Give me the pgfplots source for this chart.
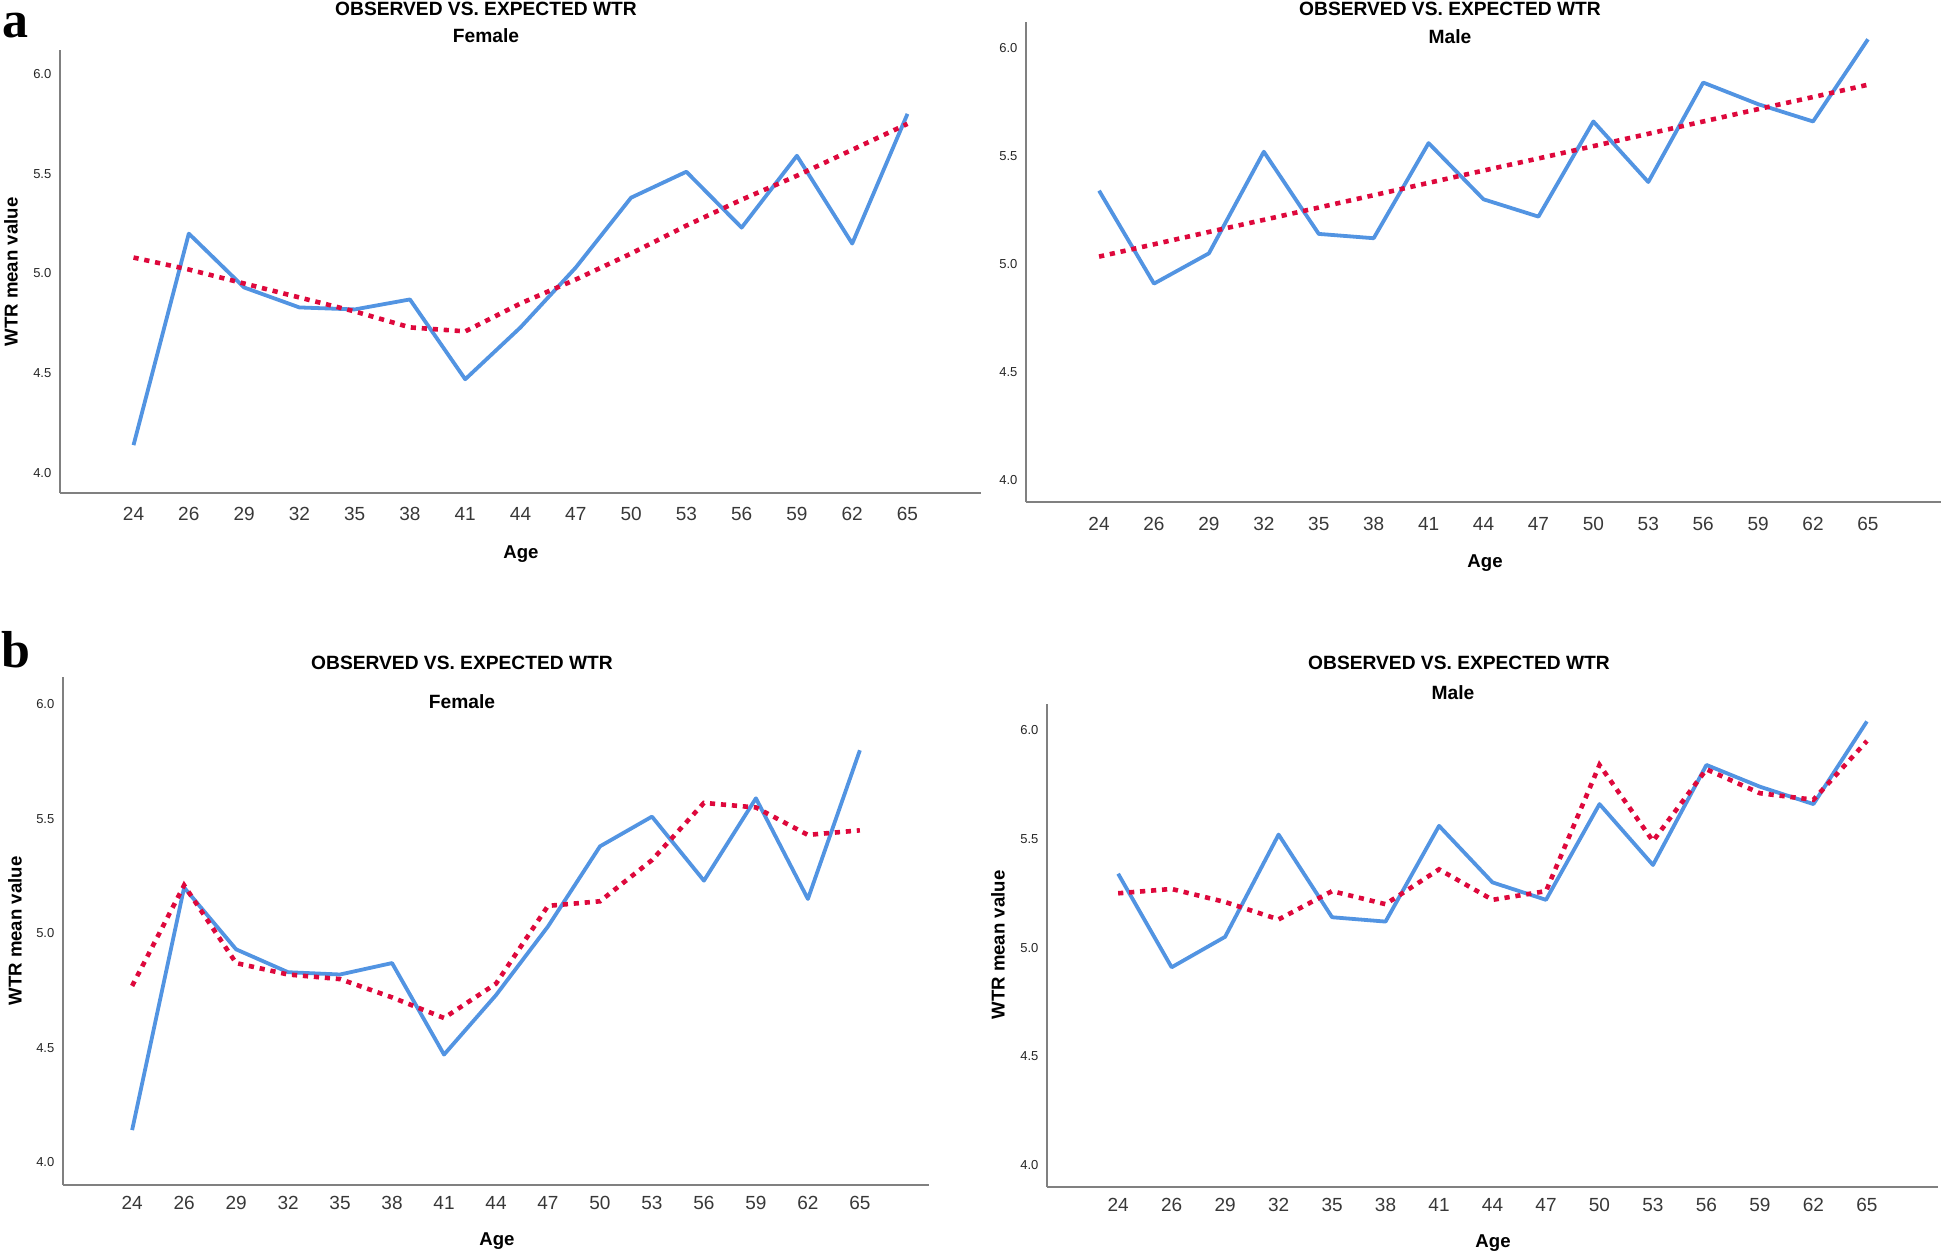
\documentclass[border=0pt]{standalone}
\usepackage{fontspec}
\setmainfont{Liberation Sans}
\newfontfamily\letterfont{Liberation Serif}
\usepackage{pgfplots}
\pgfplotsset{compat=1.18}
\usepackage{pgfplotstable}

\definecolor{obsblue}{RGB}{82,148,226}
\definecolor{expred}{RGB}{222,8,60}
\definecolor{axgray}{RGB}{128,128,128}

\pgfplotstableread{
i obsF expFa expFb obsM expMa expMb
0  4.14 5.08 4.77 5.34 5.035 5.25
1  5.20 5.02 5.21 4.91 5.092 5.27
2  4.93 4.95 4.87 5.05 5.149 5.21
3  4.83 4.88 4.82 5.52 5.205 5.13
4  4.82 4.81 4.80 5.14 5.262 5.26
5  4.87 4.73 4.72 5.12 5.319 5.20
6  4.47 4.71 4.63 5.56 5.376 5.36
7  4.73 4.85 4.78 5.30 5.433 5.22
8  5.03 4.97 5.12 5.22 5.489 5.26
9  5.38 5.10 5.14 5.66 5.546 5.84
10 5.51 5.24 5.32 5.38 5.603 5.49
11 5.23 5.37 5.57 5.84 5.660 5.82
12 5.59 5.49 5.55 5.74 5.717 5.71
13 5.15 5.62 5.43 5.66 5.773 5.68
14 5.80 5.75 5.45 6.04 5.830 5.95
}\wtr

\pgfplotsset{
  spss/.style={
    scale only axis,
    anchor=south west,
    xmin=-1.33, xmax=15.33, ymin=3.9, ymax=6.12,
    axis x line*=bottom, axis y line*=left,
    axis line style={-, draw=axgray, line width=1pt},
    xtick={0,...,14},
    xticklabels={24,26,29,32,35,38,41,44,47,50,53,56,59,62,65},
    ytick={4,4.5,5,5.5,6},
    major tick length=0pt,
    /pgf/number format/assume math mode=true,
    /pgf/number format/fixed,
    /pgf/number format/fixed zerofill,
    /pgf/number format/precision=1,
    xticklabel style={font=\fontsize{9.5}{11}\selectfont, text=black!78},
    yticklabel style={font=\fontsize{6.5}{8}\selectfont, text=black!85},
    xticklabel shift=2.3pt,
    yticklabel shift=0.8pt,
    clip=false,
  },
  obs/.style={draw=obsblue, line width=1.9pt, line join=round, no markers},
  expc/.style={draw=expred, line width=2.3pt, dash pattern=on 2.6pt off 2.9pt, no markers},
}

\newcommand{\ttl}{\fontsize{9.6}{11}\selectfont\bfseries}
\newcommand{\lbl}{\fontsize{9.3}{11}\selectfont\bfseries}

\begin{document}
\begin{tikzpicture}
\path[use as bounding box] (0pt,0pt) rectangle (973pt,-627.5pt);

% a - Female
\begin{axis}[spss, at={(30pt,-246.5pt)}, width=460.5pt, height=221.5pt, xticklabel shift=3.6pt]
\addplot[obs] table[x=i, y=obsF] {\wtr};
\addplot[expc] table[x=i, y=expFa] {\wtr};
\end{axis}

% a - Male
\begin{axis}[spss, at={(513pt,-251pt)}, width=457.5pt, height=240pt, xticklabel shift=4pt]
\addplot[obs] table[x=i, y=obsM] {\wtr};
\addplot[expc] table[x=i, y=expMa] {\wtr};
\end{axis}

% b - Female
\begin{axis}[spss, at={(31.5pt,-592.5pt)}, width=433pt, height=254pt]
\addplot[obs] table[x=i, y=obsF] {\wtr};
\addplot[expc] table[x=i, y=expFb] {\wtr};
\end{axis}

% b - Male
\begin{axis}[spss, at={(523.5pt,-593.5pt)}, width=445.5pt, height=241.5pt]
\addplot[obs] table[x=i, y=obsM] {\wtr};
\addplot[expc] table[x=i, y=expMb] {\wtr};
\end{axis}

% panel letters
\node[anchor=base, inner sep=0pt, font=\letterfont\fontsize{26}{30}\selectfont\bfseries] at (7.75pt,-18.5pt) {a};
\node[anchor=base, inner sep=0pt, font=\letterfont\fontsize{26}{30}\selectfont\bfseries] at (7.75pt,-333.5pt) {b};

% titles
\node[inner sep=0pt, font=\ttl] at (243pt,-4.5pt) {OBSERVED VS. EXPECTED WTR};
\node[inner sep=0pt, font=\ttl] at (243pt,-18pt) {Female};
\node[inner sep=0pt, font=\ttl] at (725pt,-4.5pt) {OBSERVED VS. EXPECTED WTR};
\node[inner sep=0pt, font=\ttl] at (725pt,-18.5pt) {Male};
\node[inner sep=0pt, font=\ttl] at (231pt,-331.5pt) {OBSERVED VS. EXPECTED WTR};
\node[inner sep=0pt, font=\ttl] at (231pt,-351pt) {Female};
\node[inner sep=0pt, font=\ttl] at (729.5pt,-331.5pt) {OBSERVED VS. EXPECTED WTR};
\node[inner sep=0pt, font=\ttl] at (726.5pt,-346.5pt) {Male};

% x labels
\node[inner sep=0pt, font=\lbl] at (260.5pt,-277pt) {Age};
\node[inner sep=0pt, font=\lbl] at (742.5pt,-281.5pt) {Age};
\node[inner sep=0pt, font=\lbl] at (248.5pt,-620.5pt) {Age};
\node[inner sep=0pt, font=\lbl] at (746.5pt,-621.5pt) {Age};

% y labels
\node[inner sep=0pt, rotate=90, font=\lbl] at (5.5pt,-136pt) {WTR mean value};
\node[inner sep=0pt, rotate=90, font=\lbl] at (7.5pt,-465.5pt) {WTR mean value};
\node[inner sep=0pt, rotate=90, font=\lbl] at (499pt,-472.5pt) {WTR mean value};
\end{tikzpicture}
\end{document}
